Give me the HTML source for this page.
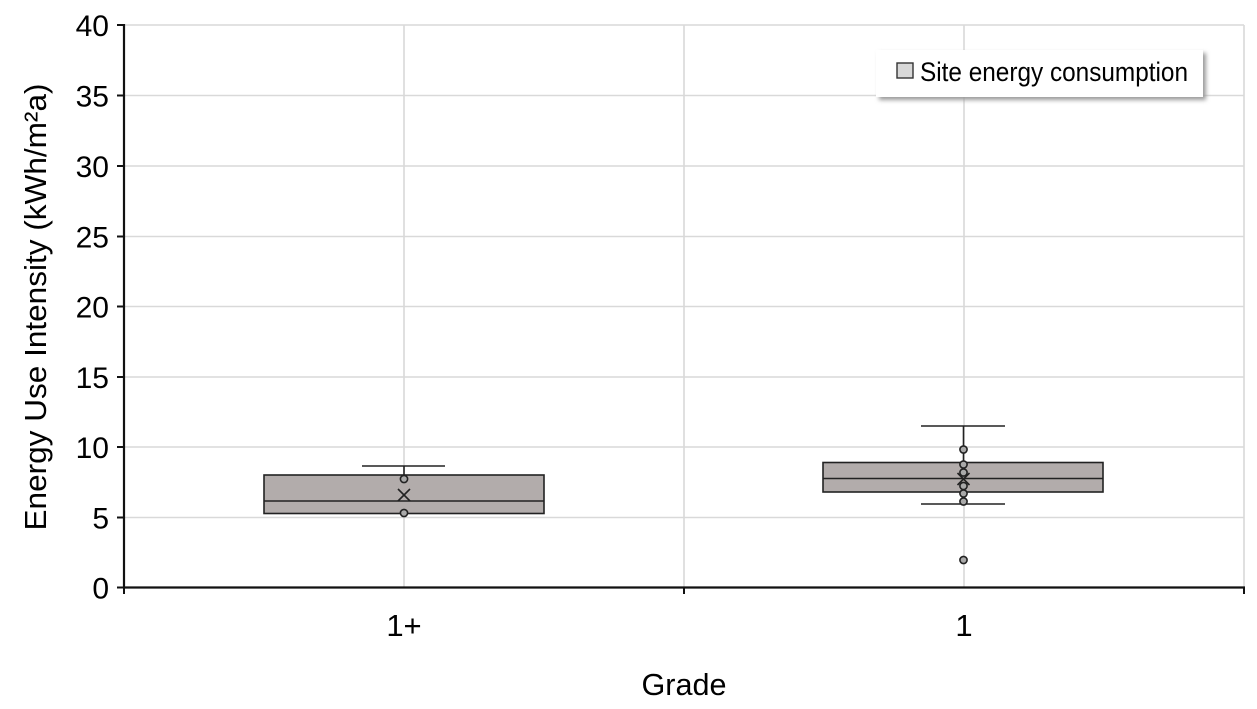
<!DOCTYPE html>
<html>
<head>
<meta charset="utf-8">
<style>
  html, body { margin: 0; padding: 0; background: #ffffff; }
  svg { display: block; }
  text { font-family: "Liberation Sans", "DejaVu Sans", sans-serif; fill: #000; }
</style>
</head>
<body>
<svg width="1257" height="709" viewBox="0 0 1257 709" xmlns="http://www.w3.org/2000/svg">
  <defs>
    <filter id="sh" x="-10%" y="-30%" width="130%" height="180%">
      <feGaussianBlur stdDeviation="2"/>
    </filter>
  </defs>
  <rect x="0" y="0" width="1257" height="709" fill="#ffffff"/>

  <!-- horizontal gridlines -->
  <g stroke="#d9d9d9" stroke-width="1.6">
    <line x1="124" y1="25" x2="1244" y2="25"/>
    <line x1="124" y1="95.5" x2="1244" y2="95.5"/>
    <line x1="124" y1="166" x2="1244" y2="166"/>
    <line x1="124" y1="236.5" x2="1244" y2="236.5"/>
    <line x1="124" y1="306.5" x2="1244" y2="306.5"/>
    <line x1="124" y1="377" x2="1244" y2="377"/>
    <line x1="124" y1="447" x2="1244" y2="447"/>
    <line x1="124" y1="517.5" x2="1244" y2="517.5"/>
  </g>
  <!-- vertical gridlines -->
  <g stroke="#d9d9d9" stroke-width="1.6">
    <line x1="404" y1="25" x2="404" y2="587"/>
    <line x1="684" y1="25" x2="684" y2="587"/>
    <line x1="964" y1="25" x2="964" y2="587"/>
    <line x1="1244" y1="25" x2="1244" y2="587"/>
  </g>

  <!-- legend -->
  <rect x="879" y="53" width="327" height="47" fill="#9a9a9a" filter="url(#sh)"/>
  <rect x="876" y="50" width="327" height="47" fill="#ffffff"/>
  <rect x="897" y="63" width="16" height="15" fill="#d8d8d8" stroke="#333" stroke-width="1.4"/>
  <text x="920" y="81" font-size="27" textLength="268" lengthAdjust="spacingAndGlyphs">Site energy consumption</text>

  <!-- Box 1 (1+) -->
  <g stroke="#222" stroke-width="1.6">
    <line x1="404" y1="466" x2="404" y2="475"/>
    <line x1="362" y1="466" x2="445" y2="466"/>
    <rect x="264" y="475" width="280" height="38.5" fill="#b2acab"/>
    <line x1="264" y1="501" x2="544" y2="501"/>
    <circle cx="404" cy="479" r="3.6" fill="#a9a9a9"/>
    <circle cx="404" cy="513" r="3.6" fill="#a9a9a9"/>
    <line x1="398" y1="489" x2="410" y2="501"/>
    <line x1="410" y1="489" x2="398" y2="501"/>
  </g>

  <!-- Box 2 (1) -->
  <g stroke="#222" stroke-width="1.6">
    <line x1="963.5" y1="426" x2="963.5" y2="462"/>
    <line x1="921" y1="426" x2="1005" y2="426"/>
    <line x1="963.5" y1="492" x2="963.5" y2="504"/>
    <line x1="921" y1="504" x2="1005" y2="504"/>
    <rect x="823" y="462.5" width="280" height="29.5" fill="#b2acab"/>
    <line x1="823" y1="478.5" x2="1103" y2="478.5"/>
    <circle cx="963.5" cy="449.5" r="3.6" fill="#a9a9a9"/>
    <circle cx="963.5" cy="464.5" r="3.6" fill="#a9a9a9"/>
    <circle cx="963.5" cy="472.5" r="3.6" fill="#a9a9a9"/>
    <circle cx="963.5" cy="486" r="3.6" fill="#a9a9a9"/>
    <circle cx="963.5" cy="493.5" r="3.6" fill="#a9a9a9"/>
    <circle cx="963.5" cy="501.5" r="3.6" fill="#a9a9a9"/>
    <circle cx="963.5" cy="560" r="3.6" fill="#a9a9a9"/>
    <line x1="957.5" y1="473" x2="969.5" y2="485"/>
    <line x1="969.5" y1="473" x2="957.5" y2="485"/>
  </g>

  <!-- axes -->
  <g stroke="#111" stroke-width="2.2">
    <line x1="124" y1="24" x2="124" y2="588"/>
    <line x1="123" y1="587.5" x2="1245" y2="587.5"/>
  </g>
  <g stroke="#111" stroke-width="2">
    <line x1="117" y1="25" x2="124" y2="25"/>
    <line x1="117" y1="95.5" x2="124" y2="95.5"/>
    <line x1="117" y1="166" x2="124" y2="166"/>
    <line x1="117" y1="236.5" x2="124" y2="236.5"/>
    <line x1="117" y1="306.5" x2="124" y2="306.5"/>
    <line x1="117" y1="377" x2="124" y2="377"/>
    <line x1="117" y1="447" x2="124" y2="447"/>
    <line x1="117" y1="517.5" x2="124" y2="517.5"/>
    <line x1="117" y1="587.5" x2="124" y2="587.5"/>
    <line x1="124" y1="587" x2="124" y2="594"/>
    <line x1="684" y1="587" x2="684" y2="594"/>
    <line x1="1244" y1="587" x2="1244" y2="594"/>
  </g>

  <!-- y tick labels -->
  <g font-size="30" text-anchor="end">
    <text x="109" y="36">40</text>
    <text x="109" y="106.5">35</text>
    <text x="109" y="177">30</text>
    <text x="109" y="247.5">25</text>
    <text x="109" y="317.5">20</text>
    <text x="109" y="388">15</text>
    <text x="109" y="458">10</text>
    <text x="109" y="528.5">5</text>
    <text x="109" y="598.5">0</text>
  </g>

  <!-- x tick labels -->
  <g font-size="31" text-anchor="middle">
    <text x="404" y="636">1+</text>
    <text x="964" y="636">1</text>
  </g>

  <!-- axis titles -->
  <text x="684" y="695" font-size="31" text-anchor="middle" textLength="85" lengthAdjust="spacingAndGlyphs">Grade</text>
  <text transform="translate(46,307) rotate(-90)" font-size="31" text-anchor="middle" textLength="447" lengthAdjust="spacingAndGlyphs">Energy Use Intensity (kWh/m²a)</text>
</svg>
</body>
</html>
